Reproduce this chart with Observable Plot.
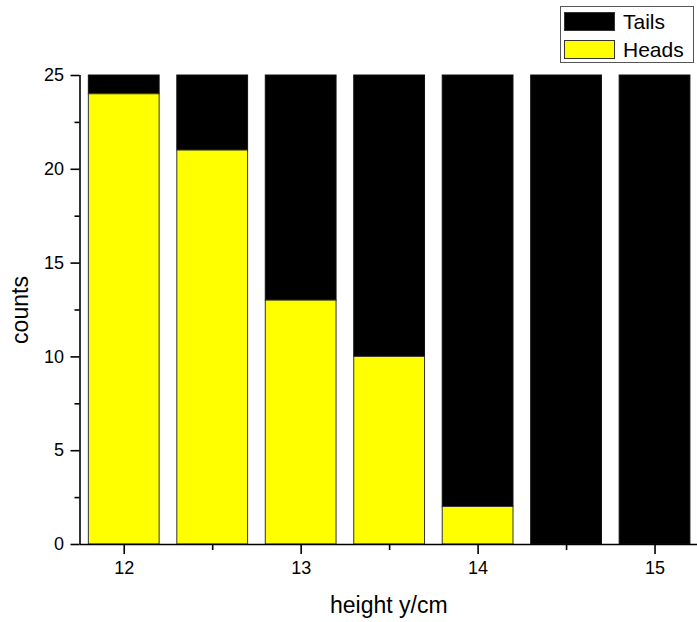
<!DOCTYPE html>
<html>
<head>
<meta charset="utf-8">
<script src="https://cdn.jsdelivr.net/npm/d3@7"></script>
<script src="https://cdn.jsdelivr.net/npm/@observablehq/plot@0.6"></script>
<style>
  body { margin: 0; background: #fff; font-family: "Liberation Sans", Arial, sans-serif; }
  #wrap { position: relative; width: 697px; height: 622px; }
  #legend { position: absolute; left: 560px; top: 6px; width: 134px; height: 57px; border: 1px solid #555; background: #fff; box-sizing: border-box; }
  .row { position: absolute; left: 3px; display: flex; align-items: center; }
  .sw { width: 51px; height: 19px; box-sizing: border-box; border: 1px solid #333; margin-right: 8px; }
  .lab { font-size: 21px; color: #000; line-height: 21px; }
</style>
</head>
<body>
<div id="wrap"></div>
<script>
const heights = [12, 12.5, 13, 13.5, 14, 14.5, 15];
const heads = [24, 21, 13, 10, 2, 0, 0];
const total = 25;
const seriesNames = ["Tails", "Heads"];
const seriesColors = ["#000000", "#ffff00"];
const xTicks = [12, 13, 14, 15];
const xMinor = [12.5, 13.5, 14.5];
const yTicks = [0, 5, 10, 15, 20, 25];
const yMinor = [2.5, 7.5, 12.5, 17.5, 22.5];

const data = heights.map((h, i) => ({h, heads: heads[i], total}));
const halfW = 0.2;
const font = "Liberation Sans, Arial, sans-serif";

const chart = Plot.plot({
  width: 697,
  height: 622,
  marginLeft: 79.5,
  marginRight: 0,
  marginTop: 75,
  marginBottom: 78,
  style: {fontFamily: font, fontSize: "18px", color: "#000", background: "#fff"},
  x: {domain: [11.75, 15.24]},
  y: {domain: [0, 25]},
  marks: [
    Plot.rect(data, {x1: d => d.h - halfW, x2: d => d.h + halfW, y1: "heads", y2: "total", fill: seriesColors[0], stroke: "#111", strokeWidth: 1}),
    Plot.rect(data.filter(d => d.heads > 0), {x1: d => d.h - halfW, x2: d => d.h + halfW, y1: 0, y2: "heads", fill: seriesColors[1], stroke: "#333", strokeWidth: 1}),
    Plot.ruleY([0], {stroke: "#000", strokeWidth: 1.6}),
    Plot.ruleX([11.75], {y1: 0, y2: 25, stroke: "#000", strokeWidth: 1.6}),
    Plot.axisX({ticks: xTicks, tickSize: 10, tickPadding: 7, tickFormat: d => String(d), strokeWidth: 1.6, fontSize: 18, label: null}),
    Plot.axisX({ticks: xMinor, tickSize: 6, text: null, strokeWidth: 1.6, label: null}),
    Plot.axisY({ticks: yTicks, tickSize: 9, tickPadding: 7, strokeWidth: 1.6, fontSize: 18, label: null}),
    Plot.axisY({ticks: yMinor, tickSize: 5, text: null, strokeWidth: 1.6, label: null}),
    Plot.text(["height y/cm"], {frameAnchor: "bottom", dy: 61, fontSize: 23, lineAnchor: "middle", textAnchor: "middle", fill: "#000"}),
    Plot.text(["counts"], {frameAnchor: "left", dx: -59, rotate: -90, fontSize: 23, textAnchor: "middle", lineAnchor: "middle", fill: "#000"})
  ]
});
const wrap = document.getElementById("wrap");
wrap.appendChild(chart);

const legend = document.createElement("div");
legend.id = "legend";
seriesNames.forEach((name, i) => {
  const row = document.createElement("div");
  row.className = "row";
  row.style.top = (i === 0 ? 4 : 32) + "px";
  const sw = document.createElement("div");
  sw.className = "sw";
  sw.style.background = seriesColors[i];
  const lab = document.createElement("span");
  lab.className = "lab";
  lab.textContent = name;
  row.appendChild(sw); row.appendChild(lab);
  legend.appendChild(row);
});
wrap.appendChild(legend);
</script>
</body>
</html>
